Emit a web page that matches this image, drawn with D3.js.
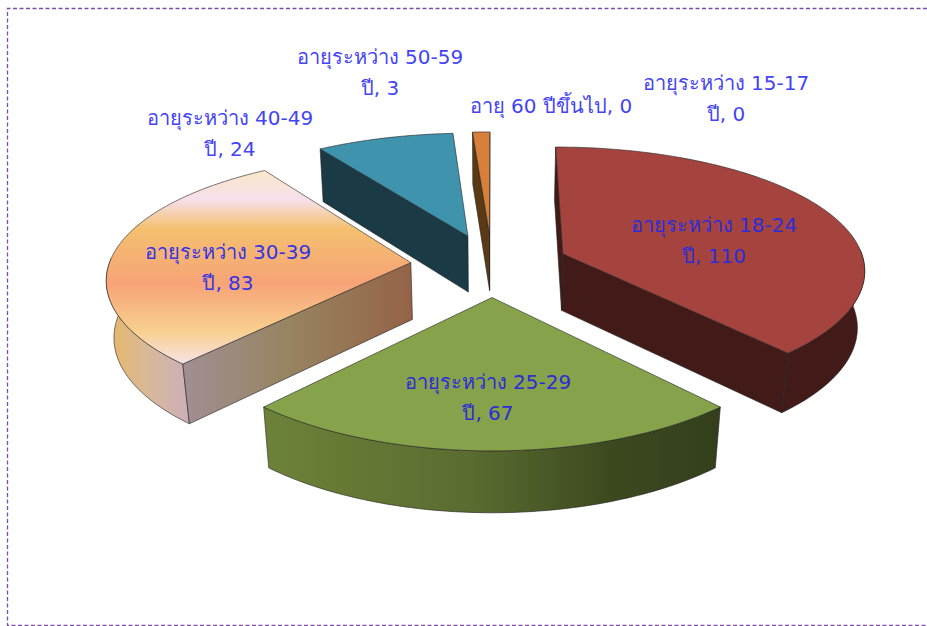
<!DOCTYPE html>
<html>
<head>
<meta charset="utf-8">
<script src="https://cdnjs.cloudflare.com/ajax/libs/d3/7.8.5/d3.min.js"></script>
<style>
  body { margin: 0; background: #fff; }
  text { font-family: "DejaVu Sans", "Noto Sans", sans-serif; font-size: 20px; text-anchor: middle; }
</style>
</head>
<body>
<div id="chart"></div>
<script>
const categories = ["อายุระหว่าง 15-17", "อายุระหว่าง 18-24", "อายุระหว่าง 25-29", "อายุระหว่าง 30-39", "อายุระหว่าง 40-49", "อายุระหว่าง 50-59", "อายุ 60"]
const units = ["ปี", "ปี", "ปี", "ปี", "ปี", "ปี", "ปีขึ้นไป"]
const values = [0, 110, 67, 83, 24, 3, 0]
const topColors = ["#888888", "#a5443f", "#86a24a", "url(#peachTop)", "#3f93ad", "#d8803a", "#888888"]
const wallColors = ["#444444", "#421a18", "url(#greenWall)", "url(#peachWall)", "#1a3a46", "#5a3a15", "#444444"]
const faceColors = ["#444444", "#421a18", "#333f1a", "url(#peachFace)", "#1a3a46", "#5a3a15", "#444444"]
const labelColors = ["#4444f4", "#2c2cd8", "#2c2cd8", "#3434e4", "#4444f4", "#4444f4", "#4444f4"]
const explodes = [0, 0.254, 0.254, 0.27, 0.254, 0.254, 0]

// label centres, one per category, two lines unless the last is on one line
const labelPos = [[726, 83], [714, 225], [488, 382], [228, 252], [230, 118], [380, 57], [551, 106]]

const width = 927, height = 626
const cx = 492, cy = 265        // screen position of the pie centre
const R = 302, ky = 123.7       // horizontal radius, vertical radius
const perspX = 0.115, perspY = 0.132, sink = 0.02 // perspective, shrink of the bottom face
const H = 58                    // wall height

const svg = d3.select("#chart").append("svg").attr("width", width).attr("height", height)

function addGradient(id, coords, stops) {
  let g = svg.append("defs").append("linearGradient").attr("id", id)
    .attr("gradientUnits", "userSpaceOnUse")
    .attr("x1", coords[0]).attr("y1", coords[1]).attr("x2", coords[2]).attr("y2", coords[3])
  stops.forEach(s => g.append("stop").attr("offset", s[0]).attr("stop-color", s[1]))
}

addGradient("peachTop", [0, 170, 0, 366], [[0, "#f8e8c8"], [0.15, "#f7e0ec"], [0.3, "#f4c06f"], [0.58, "#f7a377"], [0.82, "#f8cf8e"], [1, "#f8e4ec"]])
addGradient("peachWall", [107, 0, 187, 0], [[0, "#e8b765"], [0.5, "#d8b999"], [1, "#ccb0b8"]])
addGradient("peachFace", [187, 0, 412, 0], [[0, "#a08e92"], [0.45, "#978460"], [1, "#956347"]])
addGradient("greenWall", [265, 0, 720, 0], [[0, "#6d8239"], [0.45, "#5a6c30"], [0.75, "#3d4a20"], [1, "#333f1a"]])

// plan coordinates (X right, Z towards the viewer, Y down the wall) to screen
function project(X, Z, Y) {
  let sx = 1 / (1 - perspX * Z + sink * Y)
  let sy = 1 / (1 - perspY * Z + sink * Y)
  return [cx + R * X * sx, cy + ky * Z * sy + H * Y * sx]
}

const pie = d3.pie().sort(null).value(d => d)
const slices = pie(values)

const closed = d3.line().curve(d3.curveLinearClosed)

// back to front
const drawOrder = [5, 4, 1, 3, 2]

drawOrder.forEach(i => {
  let d = slices[i]
  let mid = (d.startAngle + d.endAngle) / 2
  let ox = explodes[i] * Math.sin(mid), oz = -explodes[i] * Math.cos(mid)
  let rim = a => [ox + Math.sin(a), oz - Math.cos(a)]
  let n = Math.max(2, Math.ceil((d.endAngle - d.startAngle) * 40))
  let angles = d3.range(n + 1).map(k => d.startAngle + (d.endAngle - d.startAngle) * k / n)
  let g = svg.append("g")

  let at = (p, y) => project(p[0], p[1], y)
  let apex = [ox, oz]
  let a0 = rim(d.startAngle), a1 = rim(d.endAngle)

  // outer wall, only the part turned to the viewer
  let front = angles.filter(a => Math.cos(a) < 0.05)
  if (front.length > 1) {
    let wall = front.map(a => at(rim(a), 0)).concat(front.slice().reverse().map(a => at(rim(a), 1)))
    g.append("path").attr("d", closed(wall)).attr("fill", wallColors[i])
      .attr("stroke", "#222").attr("stroke-width", 0.6)
  }

  // radial faces, skipped when they look away
  let startFace = [at(apex, 0), at(a0, 0), at(a0, 1), at(apex, 1)]
  let endFace = [at(apex, 0), at(a1, 0), at(a1, 1), at(apex, 1)]
  if (d3.polygonArea(startFace) > 0) {
    g.append("path").attr("d", closed(startFace)).attr("fill", faceColors[i])
      .attr("stroke", "#222").attr("stroke-width", 0.6)
  }
  if (d3.polygonArea(endFace) < 0) {
    g.append("path").attr("d", closed(endFace)).attr("fill", faceColors[i])
      .attr("stroke", "#222").attr("stroke-width", 0.6)
  }

  // top surface
  let top = [at(apex, 0)].concat(angles.map(a => at(rim(a), 0)))
  g.append("path").attr("d", closed(top)).attr("fill", topColors[i])
    .attr("stroke", "#222").attr("stroke-width", 0.6)
})

// labels
categories.forEach((c, i) => {
  let p = labelPos[i]
  if (i == 6) {
    svg.append("text").attr("x", p[0]).attr("y", p[1] + 7).attr("fill", labelColors[i])
      .text(c + " " + units[i] + ", " + values[i])
  } else {
    svg.append("text").attr("x", p[0]).attr("y", p[1] + 7).attr("fill", labelColors[i]).text(c)
    svg.append("text").attr("x", p[0]).attr("y", p[1] + 38).attr("fill", labelColors[i])
      .text(units[i] + ", " + values[i])
  }
})

// dashed frame, no right edge visible in the picture
svg.append("path").attr("d", d3.line()([[width, 8.5], [7.5, 8.5], [7.5, 625.5], [width, 625.5]]))
  .attr("fill", "none").attr("stroke", "#7b4fa8").attr("stroke-width", 1.3).attr("stroke-dasharray", "4 2.5")
</script>
</body>
</html>
